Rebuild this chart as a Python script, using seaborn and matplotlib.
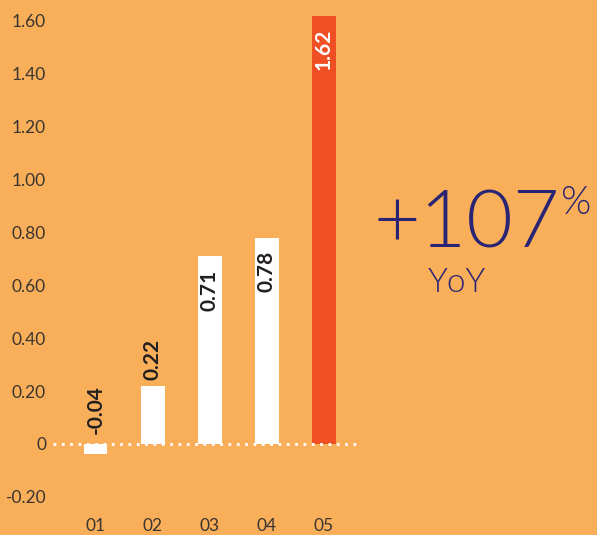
import matplotlib
matplotlib.use("Agg")
import matplotlib.pyplot as plt
import seaborn as sns
import pandas as pd

periods = ["01", "02", "03", "04", "05"]
values = [-0.04, 0.22, 0.71, 0.78, 1.62]
value_labels = ["-0.04", "0.22", "0.71", "0.78", "1.62"]
y_ticks = [-0.20, 0, 0.20, 0.40, 0.60, 0.80, 1.00, 1.20, 1.40, 1.60]
y_tick_labels = ["-0.20", "0", "0.20", "0.40", "0.60", "0.80", "1.00", "1.20", "1.40", "1.60"]
headline = "+107"
headline_unit = "%"
headline_caption = "YoY"

BG = "#F9AF59"
WHITE = "#FFFFFF"
RED = "#F04E23"
NAVY = "#2A2474"
INK = "#3A3530"
LABEL_DARK = "#231F20"

sns.set_theme(style="white")
plt.rcParams["font.family"] = ["Lato", "DejaVu Sans"]

df = pd.DataFrame({"period": periods, "value": values})
bar_colors = [WHITE] * (len(periods) - 1) + [RED]

fig = plt.figure(figsize=(5.97, 5.35), dpi=100, facecolor=BG)
ax = fig.add_axes([0.0888, 0.0467, 0.5092, 0.9389])
ax.set_facecolor(BG)

sns.barplot(data=df, x="period", y="value", hue="period", palette=bar_colors,
            width=0.41, saturation=1, legend=False, linewidth=0, ax=ax)

ax.set_xlim(-0.75, 4.58)
ax.set_ylim(-0.25, 1.65)
ax.axhline(0, color=WHITE, linestyle=(0, (1, 2)), linewidth=2, zorder=3)

# tall bars carry their value inside the bar, short ones just above it
for i, (v, lab, col) in enumerate(zip(values, value_labels, bar_colors)):
    if v > 0.5:
        txt_color = WHITE if col == RED else LABEL_DARK
        ax.annotate(lab, (i, v), xytext=(0, -9.5), textcoords="offset points",
                    rotation=90, ha="center", va="top", color=txt_color,
                    fontsize=15, fontweight="bold")
    else:
        base = max(v, 0)
        off = 7 if v < 0 else 4
        ax.annotate(lab, (i, base), xytext=(0, off), textcoords="offset points",
                    rotation=90, ha="center", va="bottom", color=LABEL_DARK,
                    fontsize=15, fontweight="bold")

ax.set_yticks(y_ticks)
ax.set_yticklabels(y_tick_labels)
ax.tick_params(axis="both", length=0, labelsize=12.5, labelcolor=INK)
ax.tick_params(axis="y", pad=5)
ax.tick_params(axis="x", pad=6)
ax.set_xlabel("")
ax.set_ylabel("")
sns.despine(ax=ax, left=True, bottom=True)

big = fig.text(0.626, 0.538, headline, color=NAVY, fontsize=58, fontweight=300,
               ha="left", va="baseline")
fig.canvas.draw()
bb = big.get_window_extent(renderer=fig.canvas.get_renderer())
x_unit = bb.x1 / fig.bbox.width
fig.text(x_unit + 0.002, 0.6, headline_unit, color=NAVY, fontsize=28, fontweight=300,
         ha="left", va="baseline")
fig.text(0.716, 0.455, headline_caption, color=NAVY, fontsize=24, fontweight=300,
         ha="left", va="baseline")

fig.savefig("out.png", dpi=100, facecolor=BG)
